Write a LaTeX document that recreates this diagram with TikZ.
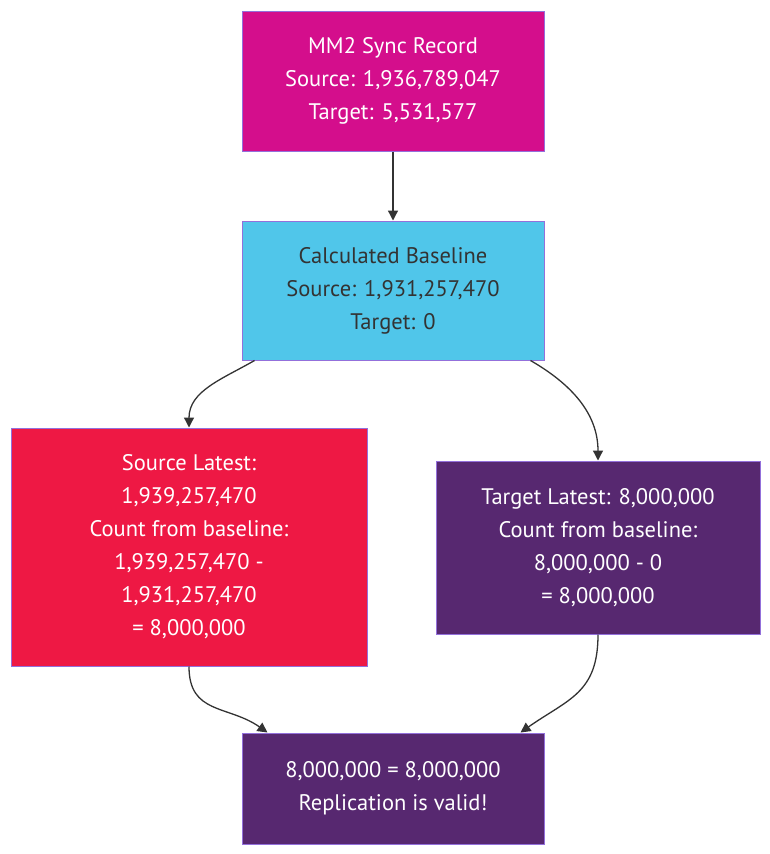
\documentclass[tikz,border=0pt]{standalone}
\usepackage{fontspec}
\setmainfont{PT Sans}
\usepackage{tikz}
\usetikzlibrary{calc}
\usetikzlibrary{arrows.meta,positioning}
\definecolor{magentaFill}{RGB}{212,14,140}
\definecolor{skyFill}{RGB}{80,198,234}
\definecolor{redFill}{RGB}{238,24,68}
\definecolor{plumFill}{RGB}{87,40,112}
\definecolor{edgeLine}{RGB}{147,112,219}
\definecolor{darkText}{RGB}{51,51,51}

\begin{document}
\begin{tikzpicture}[x=1pt, y=-1pt,
			box/.style={draw=edgeLine, line width=1pt, rectangle, inner sep=0pt, align=center, font=\fontsize{22.5}{33}\selectfont},
			lightBox/.style={box, fill=skyFill, text=darkText},
			darkBox/.style={box, text=white},
			arrowStrong/.style={draw=darkText, line width=1.3pt, -{Triangle[width=10pt,length=10pt]}},
			]
			\useasboundingbox (0,0) rectangle (770,854);
			
			\draw node[darkBox, fill=magentaFill, minimum width=302pt, minimum height=140pt] at (393,81) (syncRecord)
			{MM2 Sync Record\\Source: 1,936,789,047\\Target: 5,531,577};
			
			\draw node[lightBox, minimum width=302pt, minimum height=139pt, below=69pt of syncRecord] (baseline)
			{Calculated Baseline\\Source: 1,931,257,470\\Target: 0};
			
			\draw node[darkBox, fill=redFill, minimum width=356pt, minimum height=238pt] at (189,547) (sourceLatest)
			{Source Latest:\\1,939,257,470\\Count from baseline:\\1,939,257,470 -\\1,931,257,470\\= 8,000,000};
			
			\draw node[darkBox, fill=plumFill, minimum width=324pt, minimum height=173pt] at (598,547.5) (targetLatest)
			{Target Latest: 8,000,000\\Count from baseline:\\8,000,000 - 0\\= 8,000,000};
			
			\draw node[darkBox, fill=plumFill, minimum width=302pt, minimum height=111pt] at (393,788.5) (result)
			{8,000,000 = 8,000,000\\Replication is valid!};
			
			% Arrow
			\draw [arrowStrong] (syncRecord.south) -- (baseline.north);
			\draw [arrowStrong] ($(baseline.south west)+(13,0)$) to[out=-150, in=90] (sourceLatest.north);
			\draw [arrowStrong] ($(baseline.south east)+(-14,0)$) to[out=-30, in=90] (targetLatest.north);
			\draw [arrowStrong] (sourceLatest.south) to[out=-90, in=145, looseness=1.2] ($(result.north west)+(26,0)$);
			\draw [arrowStrong] (targetLatest.south) to[out=-90, in=35, looseness=1.2] ($(result.north east)+(-24,0)$);
			
		\end{tikzpicture}
\end{document}
